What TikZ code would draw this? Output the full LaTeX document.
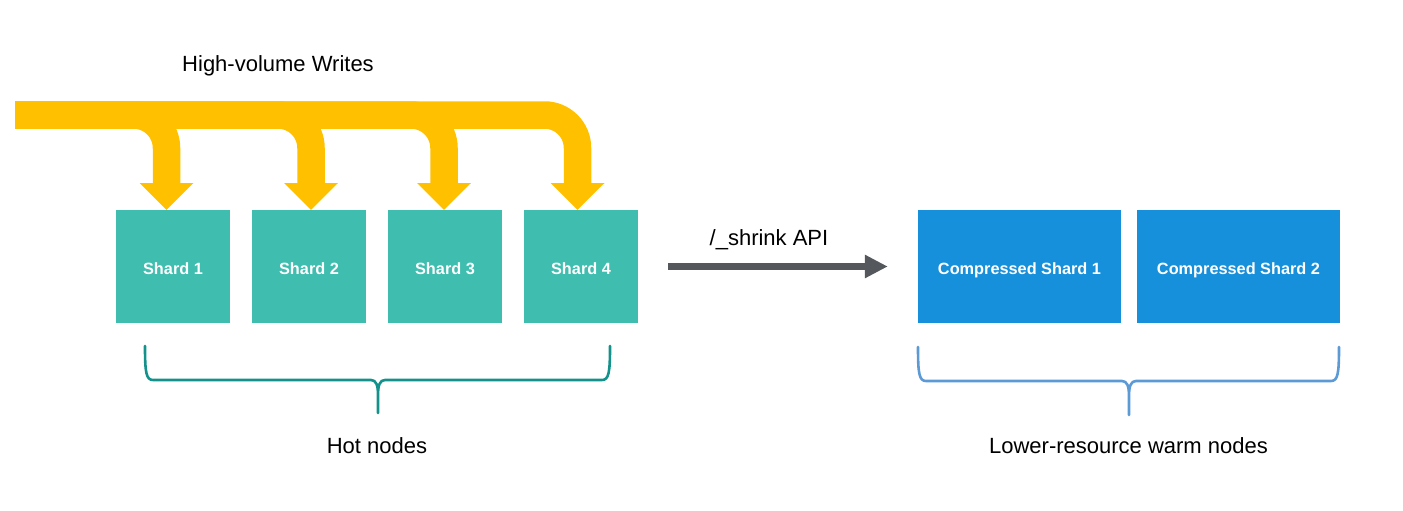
\documentclass[tikz,border=0pt]{standalone}
\usepackage{fontspec}
\setmainfont{Liberation Sans}
\usetikzlibrary{arrows.meta}
\definecolor{ylw}{HTML}{FFC000}
\definecolor{tealbox}{HTML}{3FBEB0}
\definecolor{bluebox}{HTML}{1790DC}
\definecolor{grayarr}{HTML}{54575C}
\definecolor{tealbrace}{HTML}{13918B}
\definecolor{bluebrace}{HTML}{5C9AD6}
\tikzset{
  shardbox/.style={fill=tealbox, draw=none, inner sep=0pt, minimum width=114pt, minimum height=113pt,
    text=white, font=\fontsize{16.3}{19}\selectfont\bfseries, text height=15pt, text depth=0pt},
  compbox/.style={shardbox, fill=bluebox, minimum width=203pt},
  lbl/.style={font=\fontsize{22}{26}\selectfont, text=black, inner sep=0pt, anchor=base},
  writeflow/.style={draw=ylw, line width=27.5pt, rounded corners=33pt, line cap=butt},
  writehead/.style={fill=ylw, draw=none},
  shrinkarrow/.style={draw=grayarr, line width=7pt, -{Triangle[length=23pt,width=22pt]}},
  bracelineA/.style={draw=tealbrace, line width=2.6pt, line cap=round, line join=round},
  bracelineB/.style={draw=bluebrace, line width=2.6pt, line cap=round, line join=round}
}
\begin{document}
\begin{tikzpicture}[x=1pt,y=-1pt]
\useasboundingbox (0,0) rectangle (1403,511);
% boxes
\node[shardbox] (s1) at (173,266.5) {Shard 1};
\node[shardbox] (s2) at (309,266.5) {Shard 2};
\node[shardbox] (s3) at (445,266.5) {Shard 3};
\node[shardbox] (s4) at (581,266.5) {Shard 4};
\node[compbox] (c1) at (1019.5,266.5) {Compressed Shard 1};
\node[compbox] (c2) at (1238.5,266.5) {Compressed Shard 2};
% write flows
\coordinate (src) at (15,115);
\foreach \n/\x in {s1/166.5, s2/311, s3/444, s4/577.5}{
  \draw[writeflow] (src) -- (\x,115) -- (\x,184);
  \fill[writehead] (\x-27,183) -- (\x+27,183) -- (\x,0 |- \n.north) -- cycle;
}
\node[lbl] (hvw) at (278,72) {High-volume Writes};
% shrink arrow
\draw[shrinkarrow, shorten <=30pt, shorten >=30pt] (s4.east) -- (c1.west);
\node[lbl] (api) at (769,245) {/\_shrink API};
% braces
\draw[bracelineA] (145,346) .. controls (145,372) and (146,380) .. (153,380) -- (371,380)
  .. controls (376,380) and (378,385) .. (378,395) -- (378,413)
  (610,346) .. controls (610,372) and (609,380) .. (602,380) -- (385,380)
  .. controls (380,380) and (378,385) .. (378,395);
\draw[bracelineB] (918,347) .. controls (918,373) and (919,381) .. (926,381) -- (1122,381)
  .. controls (1127,381) and (1129,386) .. (1129,396) -- (1129,415)
  (1339,347) .. controls (1339,373) and (1338,381) .. (1331,381) -- (1136,381)
  .. controls (1131,381) and (1129,386) .. (1129,396);
\node[lbl] (hot) at (377,453) {Hot nodes};
\node[lbl] (warm) at (1128.5,453) {Lower-resource warm nodes};
\end{tikzpicture}
\end{document}
